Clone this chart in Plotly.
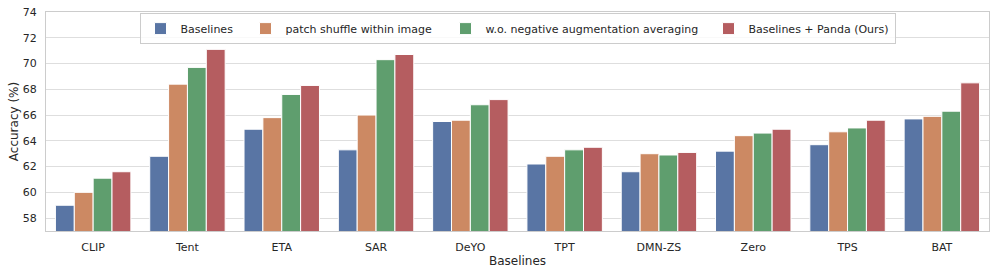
import plotly.graph_objects as go

categories = ["CLIP", "Tent", "ETA", "SAR", "DeYO", "TPT", "DMN-ZS", "Zero", "TPS", "BAT"]
baselines = [59.0, 62.8, 64.9, 63.3, 65.5, 62.2, 61.6, 63.2, 63.7, 65.7]
patch_shuffle = [60.0, 68.4, 65.8, 66.0, 65.6, 62.8, 63.0, 64.4, 64.7, 65.9]
wo_neg_avg = [61.1, 69.7, 67.6, 70.3, 66.8, 63.3, 62.9, 64.6, 65.0, 66.3]
panda = [61.6, 71.1, 68.3, 70.7, 67.2, 63.5, 63.1, 64.9, 65.6, 68.5]

series = [
    ("Baselines", baselines, "#5975A4", 60),
    ("patch shuffle within image", patch_shuffle, "#CC8963", 155),
    ("w.o. negative augmentation averaging", wo_neg_avg, "#5F9E6E", 218),
    ("Baselines + Panda (Ours)", panda, "#B55D60", None),
]
y_ticks = [58, 60, 62, 64, 66, 68, 70, 72, 74]

fig = go.Figure()
for name, vals, color, lw in series:
    kw = {}
    if lw:
        kw["legendwidth"] = lw
    fig.add_trace(go.Bar(
        x=categories, y=vals, name=name,
        marker=dict(color=color, line=dict(color="white", width=1)),
        **kw,
    ))

font = "DejaVu Sans, sans-serif"
fig.update_layout(
    width=997, height=275,
    margin=dict(l=46, r=8, t=12, b=44),
    barmode="group", bargap=0.2, bargroupgap=0,
    plot_bgcolor="white", paper_bgcolor="white",
    font=dict(family=font, size=11, color="#262626"),
    showlegend=True,
    legend=dict(
        orientation="h", x=0.5, xanchor="center", y=0.995, yanchor="top",
        bgcolor="rgba(255,255,255,0.8)", bordercolor="#cccccc", borderwidth=1,
        font=dict(size=11), traceorder="normal",
    ),
    xaxis=dict(
        title=dict(text="Baselines", standoff=3, font=dict(size=12)),
        showline=True, mirror=True, linecolor="#cccccc", linewidth=1,
        showgrid=False, ticks="", ticklabelstandoff=6, automargin=False,
    ),
    yaxis=dict(
        title=dict(text="Accuracy (%)", standoff=1, font=dict(size=12)),
        range=[57, 74], tickvals=y_ticks,
        showline=True, mirror=True, linecolor="#cccccc", linewidth=1,
        showgrid=True, gridcolor="#dedede", gridwidth=1,
        ticks="", ticklabelstandoff=6, zeroline=False, automargin=False,
    ),
)

# remove the browser's default 8px body margin so the figure sits at (0, 0)
fig.write_html("out.html", config={"displayModeBar": False},
               post_script="document.body.style.margin='0';")
